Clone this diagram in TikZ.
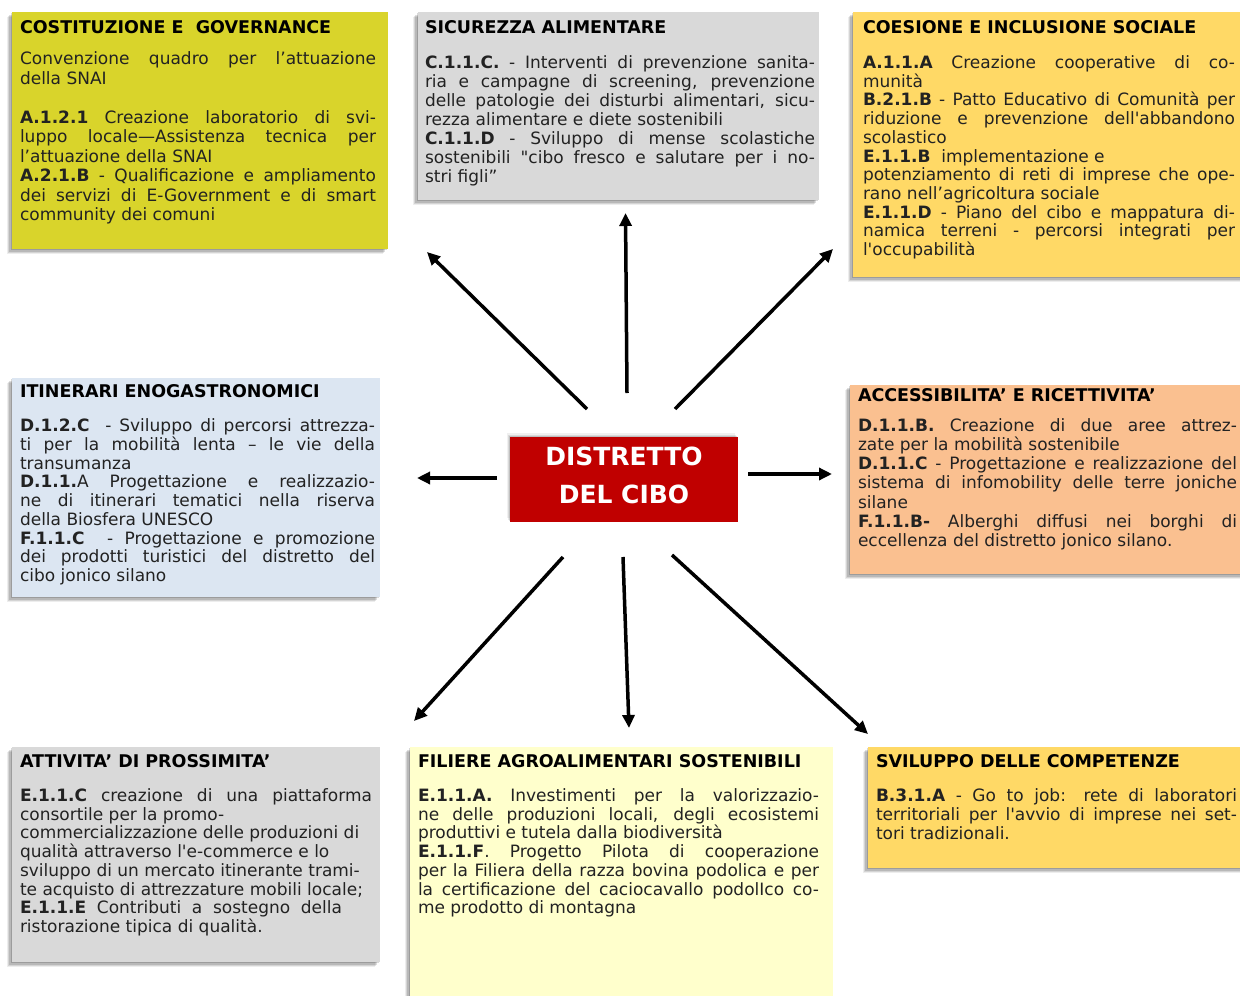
\documentclass[tikz,border=0pt]{standalone}
\usepackage{fontspec}
\usetikzlibrary{arrows.meta,shadows}
\newfontfamily\vf{DejaVu Sans}

\definecolor{govfill}{HTML}{D9D42B}
\definecolor{greyfill}{HTML}{D9D9D9}
\definecolor{goldfill}{HTML}{FFD966}
\definecolor{bluefill}{HTML}{DCE6F2}
\definecolor{peachfill}{HTML}{FAC090}
\definecolor{creamfill}{HTML}{FFFFCC}
\definecolor{redfill}{HTML}{C00000}
\definecolor{bodyink}{HTML}{222222}

% one justified line, one ragged line, a bold action code, a panel heading
\newcommand\jl[1]{\hbox to\hsize{#1}}
\newcommand\rl[1]{\hbox{#1}}
\newcommand\cd[1]{\textbf{#1}}
\newcommand\ttl[1]{\hbox{\rule{0pt}{13pt}\fontsize{17.5}{19}\selectfont\bfseries\color{black}#1}}
% a block of lines: width, line pitch, lines
\newcommand\panelbody[3]{\vbox{\hsize=#1pt\relax\vf\fontsize{17}{#2}\selectfont\lineskiplimit=-100pt #3}}

\begin{document}
\begin{tikzpicture}[x=1pt,y=-1pt,
  softshadow/.style={
    drop shadow={shadow xshift=-5pt, shadow yshift=-5pt, opacity=.07, fill=black},
    drop shadow={shadow xshift=-3.8pt, shadow yshift=-3.8pt, opacity=.10, fill=black},
    drop shadow={shadow xshift=-2.6pt, shadow yshift=-2.6pt, opacity=.13, fill=black},
    drop shadow={shadow xshift=-1.4pt, shadow yshift=-1.4pt, opacity=.15, fill=black}},
  panel/.style={anchor=north west, inner sep=0pt, outer sep=0pt, draw=none, softshadow},
  txt/.style={anchor=north west, inner sep=0pt, outer sep=0pt, text=bodyink},
  arr/.style={line width=3.5pt, -{Triangle[length=13pt,width=12pt]}}]

\fill[white] (0,0) rectangle (1240,996);
\useasboundingbox (0,0) rectangle (1240,996);

% coloured panels
\node[panel, fill=govfill,   minimum width=376pt, minimum height=237pt] (b1) at (12,12) {};
\node[panel, fill=greyfill,  minimum width=401pt, minimum height=188pt] (b2) at (418,12) {};
\node[panel, fill=goldfill,  minimum width=400pt, minimum height=265pt] (b3) at (853,12) {};
\node[panel, fill=bluefill,  minimum width=368pt, minimum height=219pt] (b4) at (12,378) {};
\node[panel, fill=peachfill, minimum width=400pt, minimum height=189pt] (b5) at (850,385) {};
\node[panel, fill=greyfill,  minimum width=368pt, minimum height=215pt] (b6) at (12,747) {};
\node[panel, fill=creamfill, minimum width=423pt, minimum height=260pt] (b7) at (410,747) {};
\node[panel, fill=goldfill,  minimum width=390pt, minimum height=121pt] (b8) at (868,747) {};

% panel texts
\node[txt] (t1) at (20,20) {\panelbody{356}{19.5}{%
\ttl{COSTITUZIONE E\ \ GOVERNANCE}
\vskip12pt
\jl{Convenzione quadro per l’attuazione}
\rl{della SNAI}
\vskip19.5pt
\jl{\cd{A.1.2.1} Creazione laboratorio di svi-}
\jl{luppo locale—Assistenza tecnica per}
\rl{l’attuazione della SNAI}
\jl{\cd{A.2.1.B} - Qualificazione e ampliamento}
\jl{dei servizi di E-Government e di smart}
\rl{community dei comuni}}};

\node[txt] (t2) at (425,20.5) {\panelbody{390}{19}{%
\ttl{SICUREZZA ALIMENTARE}
\vskip16pt
\jl{\cd{C.1.1.C.} - Interventi di prevenzione sanita-}
\jl{ria e campagne di screening, prevenzione}
\jl{delle patologie dei disturbi alimentari, sicu-}
\rl{rezza alimentare e diete sostenibili}
\jl{\cd{C.1.1.D} - Sviluppo di mense scolastiche}
\jl{sostenibili "cibo fresco e salutare per i no-}
\rl{stri figli”}}};

\node[txt] (t3) at (863,20.5) {\panelbody{372}{18.7}{%
\ttl{COESIONE E INCLUSIONE SOCIALE}
\vskip16.3pt
\jl{\cd{A.1.1.A} Creazione cooperative di co-}
\rl{munità}
\jl{\cd{B.2.1.B} - Patto Educativo di Comunità per}
\jl{riduzione e prevenzione dell'abbandono}
\rl{scolastico}
\rl{\cd{E.1.1.B}\ \ implementazione e}
\jl{potenziamento di reti di imprese che ope-}
\rl{rano nell’agricoltura sociale}
\jl{\cd{E.1.1.D} - Piano del cibo e mappatura di-}
\jl{namica terreni - percorsi integrati per}
\rl{l'occupabilità}}};

\node[txt] (t4) at (20,384.5) {\panelbody{355}{18.75}{%
\ttl{ITINERARI ENOGASTRONOMICI}
\vskip15.25pt
\jl{\cd{D.1.2.C}\ \ - Sviluppo di percorsi attrezza-}
\jl{ti per la mobilità lenta – le vie della}
\rl{transumanza}
\jl{\cd{D.1.1.}A Progettazione e realizzazio-}
\jl{ne di itinerari tematici nella riserva}
\rl{della Biosfera UNESCO}
\jl{\cd{F.1.1.C}\ \ - Progettazione e promozione}
\jl{dei prodotti turistici del distretto del}
\rl{cibo jonico silano}}};

\node[txt] (t5) at (858,388.5) {\panelbody{379}{19.1}{%
\ttl{ACCESSIBILITA’ E RICETTIVITA’}
\vskip11pt
\jl{\cd{D.1.1.B.} Creazione di due aree attrez-}
\rl{zate per la mobilità sostenibile}
\jl{\cd{D.1.1.C} - Progettazione e realizzazione del}
\jl{sistema di infomobility delle terre joniche}
\rl{silane}
\jl{\cd{F.1.1.B-} Alberghi diffusi nei borghi di}
\rl{eccellenza del distretto jonico silano.}}};

\node[txt] (t6) at (20,754.5) {\panelbody{352}{18.7}{%
\ttl{ATTIVITA’ DI PROSSIMITA’}
\vskip15.3pt
\jl{\cd{E.1.1.C} creazione di una piattaforma}
\rl{consortile per la promo-}
\rl{commercializzazione delle produzioni di}
\rl{qualità attraverso l'e-commerce e lo}
\rl{sviluppo di un mercato itinerante trami-}
\rl{te acquisto di attrezzature mobili locale;}
\hbox to322pt{\cd{E.1.1.E} Contributi a sostegno della}
\rl{ristorazione tipica di qualità.}}};

\node[txt] (t7) at (418,754.5) {\panelbody{401}{18.7}{%
\ttl{FILIERE AGROALIMENTARI SOSTENIBILI}
\vskip15.3pt
\jl{\cd{E.1.1.A.} Investimenti per la valorizzazio-}
\jl{ne delle produzioni locali, degli ecosistemi}
\rl{produttivi e tutela dalla biodiversità}
\jl{\cd{E.1.1.F}. Progetto Pilota di cooperazione}
\jl{per la Filiera della razza bovina podolica e per}
\jl{la certificazione del caciocavallo podolIco co-}
\rl{me prodotto di montagna}}};

\node[txt] (t8) at (876,754.5) {\panelbody{361}{19}{%
\ttl{SVILUPPO DELLE COMPETENZE}
\vskip15pt
\jl{\cd{B.3.1.A} - Go to job: rete di laboratori}
\jl{territoriali per l'avvio di imprese nei set-}
\rl{tori tradizionali.}}};

% central box
\node[anchor=north west, inner sep=0pt, fill=redfill, minimum width=228pt, minimum height=85pt,
  drop shadow={shadow xshift=-3pt, shadow yshift=4pt, opacity=.06, fill=black},
  drop shadow={shadow xshift=-2pt, shadow yshift=2.5pt, opacity=.09, fill=black},
  drop shadow={shadow xshift=-1pt, shadow yshift=1.2pt, opacity=.12, fill=black}] (centre) at (510,437) {};
\node[text=white, align=center, inner sep=0pt,
  font=\vf\fontsize{25}{38}\selectfont\bfseries] (centretext) at (624,475) {DISTRETTO\\DEL CIBO};

% arrow ends
\coordinate (ul0) at (587,409);  \coordinate (ul1) at (427,252);
\coordinate (up0) at (627,393);  \coordinate (up1) at (625.5,213);
\coordinate (ur0) at (675,409);  \coordinate (ur1) at (833,249);
\coordinate (lf0) at (497,478);  \coordinate (lf1) at (417,478);
\coordinate (rt0) at (748,474);  \coordinate (rt1) at (832,474);
\coordinate (dl0) at (563,557);  \coordinate (dl1) at (414,721);
\coordinate (dn0) at (623,557);  \coordinate (dn1) at (629,728);
\coordinate (dr0) at (672,555);  \coordinate (dr1) at (868,734);

\draw[arr] (ul0) -- (ul1);
\draw[arr] (up0) -- (up1);
\draw[arr] (ur0) -- (ur1);
\draw[arr] (lf0) -- (lf1);
\draw[arr] (rt0) -- (rt1);
\draw[arr] (dl0) -- (dl1);
\draw[arr] (dn0) -- (dn1);
\draw[arr] (dr0) -- (dr1);
\end{tikzpicture}
\end{document}
